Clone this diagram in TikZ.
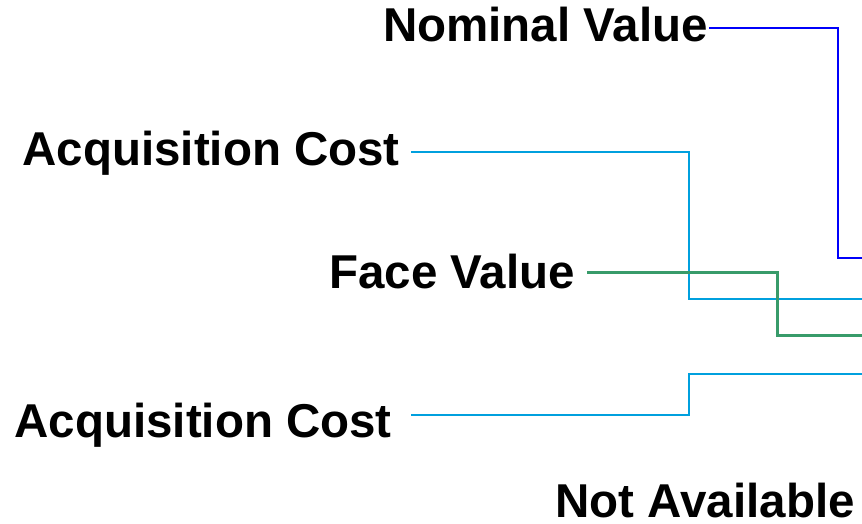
\documentclass[tikz,border=0pt]{standalone}
\usepackage{fontspec}
\setmainfont{Liberation Sans}
\definecolor{nomblue}{RGB}{0,0,250}
\definecolor{acqblue}{RGB}{0,160,222}
\definecolor{facegreen}{RGB}{56,155,106}
\tikzset{
  lbl/.style={font=\fontsize{47.5}{57}\selectfont\bfseries, inner sep=0pt, anchor=base east},
  nomline/.style={draw=nomblue, line width=1.5pt},
  acqline/.style={draw=acqblue, line width=1.6pt},
  faceline/.style={draw=facegreen, line width=3pt}
}
\begin{document}
\begin{tikzpicture}[x=1pt,y=-1pt]
    \useasboundingbox (0,0) rectangle (862,524);
    \node[lbl] (nv) at (708,42) {Nominal Value};
    \node[lbl] (ac1) at (400,165) {Acquisition Cost};
    \node[lbl] (fv) at (575,288) {Face Value};
    \node[lbl] (ac2) at (392,437) {Acquisition Cost};
    \node[lbl] (na) at (855,517) {Not Available};
    % ends at the right edge
    \coordinate (nvend) at (862,258);
    \coordinate (ac1end) at (862,299);
    \coordinate (fvend) at (862,335);
    \coordinate (ac2end) at (862,374);
    \draw[nomline] ([xshift=1pt]nv.east |- 0,28) -| (838,258) -- (nvend);
    \draw[acqline] ([xshift=11pt]ac1.east |- 0,152) -| (689,299) -- (ac1end);
    \draw[faceline] ([xshift=12pt]fv.east |- 0,272) -| (777,335) -- (fvend);
    \draw[acqline] ([xshift=19pt]ac2.east |- 0,415) -| (689,374) -- (ac2end);
\end{tikzpicture}
\end{document}
